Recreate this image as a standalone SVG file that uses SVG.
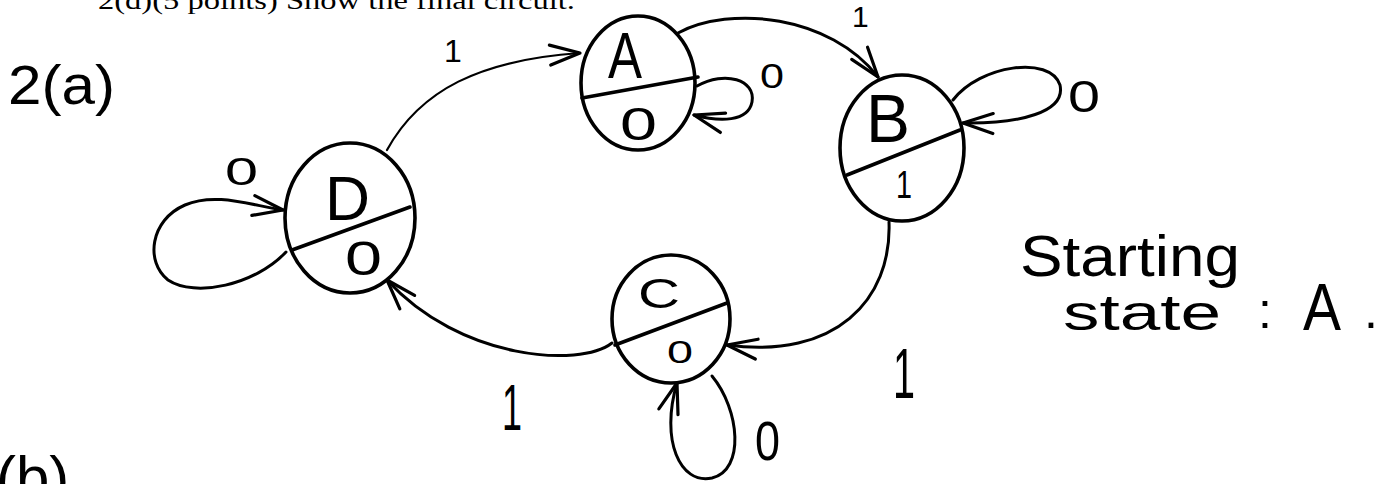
<svg xmlns="http://www.w3.org/2000/svg" width="1386" height="484" viewBox="0 0 1386 484">
<defs>
<style>
.node{fill:none;stroke:#000;stroke-width:3.6}
.div{fill:none;stroke:#000;stroke-width:3.6;stroke-linecap:round}
.edge{fill:none;stroke:#000;stroke-width:3;stroke-linecap:round}
.thin{stroke-width:2.2}
.hw{font-family:"Liberation Sans",Arial,sans-serif;fill:#000}
.print{font-family:"Liberation Serif","Times New Roman",serif;fill:#000}
</style>
<marker id="arr" viewBox="-34 -14 36 28" markerWidth="36" markerHeight="28" refX="0" refY="0" orient="auto" markerUnits="userSpaceOnUse">
<path d="M-30,-10 L0,0 L-30,10" fill="none" stroke="#000" stroke-width="3.2" stroke-linecap="round" stroke-linejoin="round"/>
</marker>
</defs>
<rect width="1386" height="484" fill="#fff"/>

<text class="print" x="98" y="9" font-size="26" textLength="477" lengthAdjust="spacingAndGlyphs">2(d)(5 points) Show the final circuit.</text>

<text class="hw" x="8" y="104" font-size="56" textLength="107" lengthAdjust="spacingAndGlyphs">2(a)</text>

<g id="connectors">
<path class="edge thin" d="M387,150 C420,90 480,60 580,53" marker-end="url(#arr)"/>
<path class="edge" d="M678,33 C730,5 830,15 878,77" marker-end="url(#arr)"/>
<path class="edge" d="M697,86 C725,70 756,80 752,102 C748,122 720,122 694,115" marker-end="url(#arr)"/>
<path class="edge" d="M953,100 C980,65 1050,55 1060,85 C1066,112 1020,124 963,123" marker-end="url(#arr)"/>
<path class="edge" d="M889,222 C892,300 835,360 727,345" marker-end="url(#arr)"/>
<path class="edge" d="M612,343 C580,368 460,360 387,280" marker-end="url(#arr)"/>
<path class="edge" d="M286,252 C255,285 195,298 168,280 C145,262 150,220 185,205 C215,192 250,205 283,210" marker-end="url(#arr)"/>
<path class="edge" d="M712,376 C740,410 745,470 712,478 C680,485 660,440 677,383" marker-end="url(#arr)"/>
<text class="hw" x="444" y="62" font-size="32">1</text>
<text class="hw" x="852" y="27" font-size="30">1</text>
<text class="hw" x="893" y="398" font-size="70" textLength="22" lengthAdjust="spacingAndGlyphs">1</text>
<text class="hw" x="502" y="430" font-size="64" textLength="20" lengthAdjust="spacingAndGlyphs">1</text>
<text class="hw" x="225" y="185" font-size="39" textLength="33" lengthAdjust="spacingAndGlyphs">0</text>
<text class="hw" x="760" y="88" font-size="35" textLength="24" lengthAdjust="spacingAndGlyphs">0</text>
<text class="hw" x="1068" y="112" font-size="45" textLength="32" lengthAdjust="spacingAndGlyphs">0</text>
<text class="hw" x="755" y="460" font-size="56" textLength="25" lengthAdjust="spacingAndGlyphs">0</text>
</g>

<g id="node-A">
<ellipse class="node" cx="638" cy="83" rx="57" ry="67"/>
<line class="div" x1="582" y1="98" x2="698" y2="77"/>
<text class="hw" x="608" y="78" font-size="64" textLength="34" lengthAdjust="spacingAndGlyphs">A</text>
<text class="hw" x="620" y="140" font-size="46" textLength="37" lengthAdjust="spacingAndGlyphs">0</text>
</g>

<g id="node-B">
<ellipse class="node" cx="902" cy="148" rx="62" ry="73"/>
<line class="div" x1="847" y1="175" x2="960" y2="130"/>
<text class="hw" x="866" y="142" font-size="68" textLength="44" lengthAdjust="spacingAndGlyphs">B</text>
<text class="hw" x="896" y="198" font-size="39" textLength="16" lengthAdjust="spacingAndGlyphs">1</text>
</g>

<g id="node-C">
<ellipse class="node" cx="671" cy="319" rx="59" ry="64"/>
<line class="div" x1="615" y1="345" x2="727" y2="303"/>
<text class="hw" x="638" y="308" font-size="42" textLength="42" lengthAdjust="spacingAndGlyphs">C</text>
<text class="hw" x="667" y="363" font-size="32" textLength="26" lengthAdjust="spacingAndGlyphs">0</text>
</g>

<g id="node-D">
<ellipse class="node" cx="350" cy="218" rx="65" ry="75"/>
<line class="div" x1="292" y1="250" x2="410" y2="207"/>
<text class="hw" x="325" y="220" font-size="63" textLength="45" lengthAdjust="spacingAndGlyphs">D</text>
<text class="hw" x="345" y="275" font-size="49" textLength="37" lengthAdjust="spacingAndGlyphs">0</text>
</g>

<text class="hw" x="1020" y="276" font-size="58" textLength="220" lengthAdjust="spacingAndGlyphs">Starting</text>
<text class="hw" x="1063" y="330" font-size="50" textLength="158" lengthAdjust="spacingAndGlyphs">state</text>
<text class="hw" x="1258" y="328" font-size="50">:</text>
<text class="hw" x="1303" y="330" font-size="66" textLength="38" lengthAdjust="spacingAndGlyphs">A</text>
<text class="hw" x="1364" y="328" font-size="50">.</text>

<text class="hw" x="-4" y="498" font-size="60">(b)</text>
</svg>
